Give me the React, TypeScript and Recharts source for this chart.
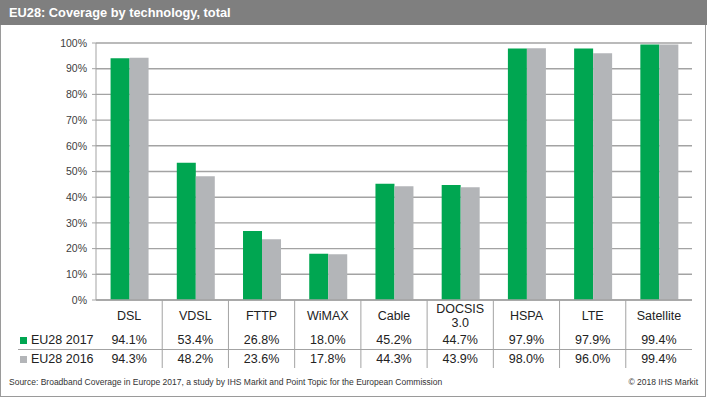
import React from 'react';
import { BarChart, Bar, XAxis, YAxis, CartesianGrid } from 'recharts';

const categories = ['DSL', 'VDSL', 'FTTP', 'WiMAX', 'Cable', 'DOCSIS\n3.0', 'HSPA', 'LTE', 'Satellite'];
const eu2017 = [94.1, 53.4, 26.8, 18.0, 45.2, 44.7, 97.9, 97.9, 99.4];
const eu2016 = [94.3, 48.2, 23.6, 17.8, 44.3, 43.9, 98.0, 96.0, 99.4];
const yTicks = [0, 10, 20, 30, 40, 50, 60, 70, 80, 90, 100];
const seriesNames = ['EU28 2017', 'EU28 2016'];

const GREEN = '#00a651';
const GREY = '#b3b5b8';
const LINE = '#a3a3a3';
const FONT = 'Arial, "Liberation Sans", sans-serif';

const W = 707;
const H = 398;
const PLOT_LEFT = 96;
const PLOT_RIGHT = 692;
const BAND = (PLOT_RIGHT - PLOT_LEFT) / categories.length;

const data = categories.map((name, i) => ({ name, y2017: eu2017[i], y2016: eu2016[i] }));

const fmt = (v: number) => v.toFixed(1) + '%';

// one table column per category: label, two values, left divider
const TableTick = (props: any) => {
  const { x, y, payload } = props;
  const i = categories.indexOf(payload.value);
  const lines = String(payload.value).split('\n');
  const top = y;
  return (
    <g fontFamily={FONT} fontSize={12.5} fill="#222">
      {i > 0 && <line x1={x - BAND / 2} x2={x - BAND / 2} y1={top} y2={top + 68} stroke={LINE} strokeWidth={1} />}
      {lines.map((l, k) => (
        <text key={k} x={x} y={top + 16 + (k - (lines.length - 1) / 2) * 14} textAnchor="middle" dominantBaseline="central">
          {l}
        </text>
      ))}
      <text x={x} y={top + 40} textAnchor="middle" dominantBaseline="central">{fmt(eu2017[i])}</text>
      <text x={x} y={top + 59} textAnchor="middle" dominantBaseline="central">{fmt(eu2016[i])}</text>
    </g>
  );
};

const App = () => {
  return (
    <div style={{ position: 'absolute', left: 0, top: 0, width: W, height: H, background: '#fff', fontFamily: FONT, overflow: 'hidden' }}>
      <div style={{ position: 'absolute', left: 0, top: 0, width: W - 1, height: H - 1, border: '1px solid #9a9a9a', boxSizing: 'border-box' }} />
      <div style={{ position: 'absolute', left: 0, top: 0, width: W, height: 25, background: '#7f7f7f', color: '#fff', fontWeight: 'bold', fontSize: 12.8, lineHeight: '25px', paddingLeft: 9, boxSizing: 'border-box' }}>
        EU28: Coverage by technology, total
      </div>
      <div style={{ position: 'absolute', left: 0, top: 0 }}>
        <BarChart width={W} height={H} data={data} margin={{ top: 43, right: W - PLOT_RIGHT, bottom: 30, left: 0 }} barCategoryGap="22%" barGap={0}>
          <CartesianGrid vertical={false} stroke={LINE} strokeWidth={1.4} />
          <YAxis
            width={PLOT_LEFT}
            domain={[0, 100]}
            ticks={yTicks}
            tickFormatter={(v: number) => v + '%'}
            tick={{ fontSize: 10.5, fill: '#404040', fontFamily: FONT }}
            tickSize={4}
            tickMargin={5}
            tickLine={{ stroke: LINE }}
            axisLine={{ stroke: LINE }}
          />
          <XAxis
            dataKey="name"
            interval={0}
            height={68}
            tickSize={0}
            tickMargin={0}
            tickLine={false}
            axisLine={{ stroke: LINE, strokeWidth: 1.4 }}
            tick={<TableTick />}
          />
          <Bar dataKey="y2017" name={seriesNames[0]} fill={GREEN} isAnimationActive={false} />
          <Bar dataKey="y2016" name={seriesNames[1]} fill={GREY} isAnimationActive={false} />
        </BarChart>
      </div>
      {/* row divider between the two value rows */}
      <div style={{ position: 'absolute', left: 18, top: 349, width: PLOT_RIGHT - 18, height: 1, background: LINE }} />
      {seriesNames.map((s, k) => (
        <div key={s} style={{ position: 'absolute', left: 20, top: k === 0 ? 331 : 350, height: 19, lineHeight: '19px', fontSize: 12.5, color: '#222', display: 'flex', alignItems: 'center' }}>
          <span style={{ display: 'inline-block', width: 7, height: 7, background: k === 0 ? GREEN : GREY, marginRight: 4 }} />
          {s}
        </div>
      ))}
      <div style={{ position: 'absolute', left: 9, top: 377, fontSize: 8.5, color: '#333' }}>
        Source: Broadband Coverage in Europe 2017, a study by IHS Markit and Point Topic for the European Commission
      </div>
      <div style={{ position: 'absolute', right: 9, top: 377, fontSize: 8.5, color: '#333' }}>
        © 2018 IHS Markit
      </div>
    </div>
  );
};

export default App;
